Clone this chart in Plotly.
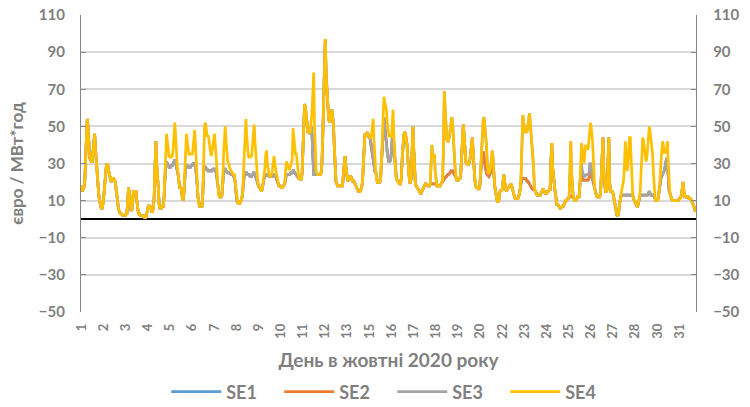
import plotly.graph_objects as go

# Hourly day-ahead prices, October 2020 (EUR/MWh), one row per day (24 hours)
SE4 = [
    [18,15,16,17,20,30,45,54,50,40,33,32,31,31,35,42,46,38,30,25,18,13,10,7],
    [6,6,8,12,18,24,28,30,29,26,23,22,20,21,22,22,21,20,16,12,8,5,4,3],
    [3,2,2,2,2,2,3,3,10,17,14,8,5,5,12,15,15,15,15,10,5,3,3,2],
    [2,2,2,2,1,1,1,3,6,7,7,7,6,4,4,6,12,30,42,30,19,17,8,6],
    [6,6,7,7,12,25,40,46,42,37,34,34,33,34,34,38,46,52,45,35,28,25,20,17],
    [17,16,12,10,14,28,40,46,42,37,35,35,35,35,35,38,44,48,40,28,19,12,8,7],
    [7,7,7,15,35,50,52,48,45,45,44,40,36,34,36,40,45,46,40,32,26,18,13,12],
    [12,12,13,20,35,46,50,42,35,31,30,28,27,26,25,25,24,24,20,14,10,9,9,8],
    [9,10,11,14,25,42,52,54,45,38,34,33,34,34,34,40,48,51,42,33,28,22,18,17],
    [16,15,15,17,20,23,28,35,37,30,25,24,23,23,24,26,30,34,30,26,24,22,19,18],
    [18,17,17,17,18,18,19,26,31,30,28,27,27,29,30,32,49,44,38,35,35,30,25,22],
    [22,21,21,25,38,52,62,60,55,50,47,47,46,48,53,58,68,79,50,30,26,25,24,24],
    [24,24,25,30,45,62,80,97,78,68,60,55,52,54,57,59,55,50,38,26,20,19,18,18],
    [18,18,18,18,18,25,33,34,28,22,21,21,22,23,23,22,20,21,20,19,18,17,16,15],
    [15,15,16,17,20,30,42,46,45,46,47,45,44,44,44,46,50,54,42,30,26,22,20,20],
    [20,20,22,30,42,55,66,63,60,59,52,47,45,45,44,44,50,59,45,33,26,22,21,20],
    [20,19,19,22,32,41,45,47,46,43,40,32,22,20,20,22,35,50,38,22,19,18,17,17],
    [16,15,14,14,15,16,17,18,19,19,18,18,18,18,19,28,40,33,34,35,26,19,18,18],
    [18,18,18,19,20,21,40,69,60,50,43,42,42,44,48,52,55,52,42,34,28,23,21,21],
    [21,22,22,25,35,45,51,45,36,31,30,30,29,30,32,36,42,44,35,26,21,18,17,17],
    [16,16,18,28,41,48,53,55,50,45,40,30,25,25,27,28,32,37,33,24,18,15,12,10],
    [9,10,14,16,15,16,20,24,20,17,15,16,17,17,18,19,19,17,15,14,12,11,11,11],
    [11,12,15,16,25,45,56,52,48,47,47,47,50,54,57,52,46,42,39,28,17,15,14,13],
    [13,13,13,13,14,15,16,16,15,14,14,14,15,15,16,16,30,41,28,22,17,15,12,8],
    [8,7,6,6,6,7,7,7,8,9,10,10,11,11,12,25,42,25,14,12,11,10,10,11],
    [12,12,12,18,32,41,38,33,30,35,40,39,38,38,44,50,52,48,44,36,22,16,14,13],
    [12,12,12,12,14,28,40,44,25,16,15,15,16,30,44,20,15,15,15,14,12,9,7,4],
    [2,2,4,8,10,14,17,18,21,30,42,35,26,28,36,44,44,30,17,13,11,10,9,8],
    [7,7,9,12,15,25,38,44,42,39,35,31,33,40,47,50,47,43,40,35,25,15,11,10],
    [10,10,12,16,21,30,38,42,40,36,36,36,38,42,30,16,14,12,11,10,10,10,10,10],
    [10,10,10,11,11,12,13,17,20,14,12,12,12,12,12,11,11,11,10,9,8,7,5,4],
]

SE3 = [
    [18,15,16,17,20,30,45,54,50,40,33,32,31,31,35,42,46,38,30,25,18,13,10,7],
    [6,6,8,12,18,24,28,30,29,26,23,22,20,21,22,22,21,20,16,12,8,5,4,3],
    [3,2,2,2,2,2,3,3,10,17,14,8,5,5,12,15,15,15,15,10,5,3,3,2],
    [2,2,2,2,1,1,1,3,6,7,7,7,6,4,4,6,12,30,42,30,19,17,8,6],
    [6,6,7,7,12,25,30,31,30,29,28,28,28,29,29,30,31,32,30,28,26,24,20,17],
    [17,16,12,10,14,25,28,29,29,28,28,28,28,29,29,30,30,30,29,25,19,12,8,7],
    [7,7,7,15,27,28,28,27,27,26,26,26,26,26,26,27,27,27,26,25,22,18,13,12],
    [12,12,13,20,26,27,27,26,25,25,25,25,25,24,24,24,23,23,20,14,10,9,9,8],
    [9,10,11,14,22,24,25,25,25,24,24,24,23,23,23,24,25,25,24,23,22,20,18,17],
    [16,15,15,17,20,22,23,24,24,24,23,23,23,23,23,23,24,24,24,23,22,21,19,18],
    [18,17,17,17,18,18,19,22,24,24,24,24,24,25,25,25,26,26,25,24,24,23,22,22],
    [22,21,21,25,38,52,62,60,55,50,47,47,46,48,50,45,28,24,24,24,24,24,24,24],
    [24,24,25,30,45,62,80,97,78,68,60,55,52,54,57,59,55,50,38,26,20,19,18,18],
    [18,18,18,18,18,25,33,34,28,22,21,21,22,23,23,22,20,21,20,19,18,17,16,15],
    [15,15,16,17,20,30,42,46,45,46,47,45,44,44,42,40,36,32,29,26,26,22,20,20],
    [20,20,22,30,42,50,55,50,44,40,36,33,31,31,32,36,44,50,40,32,26,22,21,20],
    [20,19,19,22,32,41,45,47,46,43,40,32,22,20,20,22,35,50,38,22,19,18,17,17],
    [16,15,14,14,15,16,17,18,19,19,18,18,18,18,19,28,40,33,34,35,26,19,18,18],
    [18,18,18,19,20,21,40,69,60,50,43,42,42,44,48,52,55,52,42,34,28,23,21,21],
    [21,22,22,25,35,45,51,45,36,31,30,30,29,30,32,36,42,44,35,26,21,18,17,17],
    [16,16,18,28,41,48,53,55,50,45,40,30,25,25,27,28,32,37,33,24,18,15,12,10],
    [9,10,14,16,15,16,20,24,20,17,15,16,17,17,18,19,19,17,15,14,12,11,11,11],
    [11,12,15,16,25,45,56,52,48,47,47,47,50,54,57,52,46,42,39,28,17,15,14,13],
    [13,13,13,13,14,15,16,16,15,14,14,14,15,15,16,16,30,41,28,22,17,15,12,8],
    [8,7,6,6,6,7,7,7,8,9,10,10,11,11,12,25,42,25,14,12,11,10,10,11],
    [12,12,12,18,28,30,26,24,23,23,24,24,24,24,25,30,30,28,25,22,20,16,14,13],
    [12,12,12,12,14,28,40,44,25,16,15,15,16,30,44,20,15,15,15,14,12,9,7,4],
    [2,2,4,8,10,13,13,13,13,13,13,13,13,13,13,13,13,13,13,13,11,10,9,8],
    [7,7,9,12,13,13,13,13,13,13,13,13,13,13,14,15,14,13,13,13,13,13,11,10],
    [10,10,12,16,20,22,23,24,25,26,28,30,33,30,20,15,14,12,11,10,10,10,10,10],
    [10,10,10,11,11,12,13,17,20,14,12,12,12,12,12,11,11,11,10,9,8,7,5,4],
]

SE2 = [
    [18,15,16,17,20,30,45,54,50,40,33,32,31,31,35,42,46,38,30,25,18,13,10,7],
    [6,6,8,12,18,24,28,30,29,26,23,22,20,21,22,22,21,20,16,12,8,5,4,3],
    [3,2,2,2,2,2,3,3,10,17,14,8,5,5,12,15,15,15,15,10,5,3,3,2],
    [2,2,2,2,1,1,1,3,6,7,7,7,6,4,4,6,12,30,42,30,19,17,8,6],
    [6,6,7,7,12,25,30,31,30,29,28,28,28,29,29,30,31,32,30,28,26,24,20,17],
    [17,16,12,10,14,25,28,29,29,28,28,28,28,29,29,30,30,30,29,25,19,12,8,7],
    [7,7,7,15,27,28,28,27,27,26,26,26,26,26,26,27,27,27,26,25,22,18,13,12],
    [12,12,13,20,26,27,27,26,25,25,25,25,25,24,24,24,23,23,20,14,10,9,9,8],
    [9,10,11,14,22,24,25,25,25,24,24,24,23,23,23,24,25,25,24,23,22,20,18,17],
    [16,15,15,17,20,22,23,24,24,24,23,23,23,23,23,23,24,24,24,23,22,21,19,18],
    [18,17,17,17,18,18,19,22,24,24,24,24,24,25,25,25,26,26,25,24,24,23,22,22],
    [22,21,21,25,38,52,62,60,55,50,47,47,46,48,50,45,28,24,24,24,24,24,24,24],
    [24,24,25,30,45,62,80,97,78,68,60,55,52,54,57,59,55,50,38,26,20,19,18,18],
    [18,18,18,18,18,25,33,34,28,22,21,21,22,23,23,22,20,21,20,19,18,17,16,15],
    [15,15,16,17,20,30,42,46,45,46,47,45,44,44,41,37,33,30,28,26,26,22,20,20],
    [20,20,22,30,42,50,55,50,44,40,36,33,31,31,32,36,44,50,40,32,26,22,21,20],
    [20,19,19,22,32,41,45,47,46,43,40,32,22,20,20,22,35,50,38,22,19,18,17,17],
    [16,15,14,14,15,16,17,18,19,19,18,18,18,18,19,19,19,19,19,19,19,19,18,18],
    [18,18,18,19,20,20,21,22,22,23,23,24,24,25,25,26,26,26,25,24,23,22,21,21],
    [21,22,22,25,35,45,51,45,36,31,30,30,29,30,32,36,42,44,35,26,21,18,17,17],
    [16,16,18,26,34,36,36,34,30,27,25,24,23,23,24,25,28,32,30,22,18,15,12,10],
    [9,10,14,16,15,16,20,24,20,17,15,16,17,17,18,19,19,17,15,14,12,11,11,11],
    [11,12,15,16,20,22,22,22,22,22,21,21,20,20,19,18,17,16.5,16,16,16,15,14,13],
    [13,13,13,13,14,15,16,16,15,14,14,14,15,15,16,16,30,41,28,22,17,15,12,8],
    [8,7,6,6,6,7,7,7,8,9,10,10,11,11,12,12,12,12,13,12,11,10,10,11],
    [12,12,12,18,25,25,22,21,21,21,21,21,21,21,22,24,26,24,22,20,19,16,14,13],
    [12,12,12,12,14,28,40,44,25,16,15,15,16,30,44,20,15,15,15,14,12,9,7,4],
    [2,2,4,8,10,13,13,13,13,13,13,13,13,13,13,13,13,13,13,13,11,10,9,8],
    [7,7,9,12,13,13,13,13,13,13,13,13,13,13,14,15,14,13,13,13,13,13,11,10],
    [10,10,12,16,20,22,23,24,25,26,28,30,33,30,20,15,14,12,11,10,10,10,10,10],
    [10,10,10,11,11,12,13,17,20,14,12,12,12,12,12,11,11,11,10,9,8,7,5,4],
]

SE1 = [
    [18,15,16,17,20,30,45,54,50,40,33,32,31,31,35,42,46,38,30,25,18,13,10,7],
    [6,6,8,12,18,24,28,30,29,26,23,22,20,21,22,22,21,20,16,12,8,5,4,3],
    [3,2,2,2,2,2,3,3,10,17,14,8,5,5,12,15,15,15,15,10,5,3,3,2],
    [2,2,2,2,1,1,1,3,6,7,7,7,6,4,4,6,12,30,42,30,19,17,8,6],
    [6,6,7,7,12,25,30,31,30,29,28,28,28,29,29,30,31,32,30,28,26,24,20,17],
    [17,16,12,10,14,25,28,29,29,28,28,28,28,29,29,30,30,30,29,25,19,12,8,7],
    [7,7,7,15,27,28,28,27,27,26,26,26,26,26,26,27,27,27,26,25,22,18,13,12],
    [12,12,13,20,26,27,27,26,25,25,25,25,25,24,24,24,23,23,20,14,10,9,9,8],
    [9,10,11,14,22,24,25,25,25,24,24,24,23,23,23,24,25,25,24,23,22,20,18,17],
    [16,15,15,17,20,22,23,24,24,24,23,23,23,23,23,23,24,24,24,23,22,21,19,18],
    [18,17,17,17,18,18,19,22,24,24,24,24,24,25,25,25,26,26,25,24,24,23,22,22],
    [22,21,21,25,38,52,62,60,55,50,47,47,46,48,50,45,28,24,24,24,24,24,24,24],
    [24,24,25,30,45,62,80,97,78,68,60,55,52,54,57,59,55,50,38,26,20,19,18,18],
    [18,18,18,18,18,25,33,34,28,22,21,21,22,23,23,22,20,21,20,19,18,17,16,15],
    [15,15,16,17,20,30,42,46,45,46,47,45,44,44,41,37,33,30,28,26,26,22,20,20],
    [20,20,22,30,42,50,55,50,44,40,36,33,31,31,32,36,44,50,40,32,26,22,21,20],
    [20,19,19,22,32,41,45,47,46,43,40,32,22,20,20,22,35,50,38,22,19,18,17,17],
    [16,15,14,14,15,16,17,18,19,19,18,18,18,18,19,19,19,19,19,19,19,19,18,18],
    [18,18,18,19,20,20,21,22,22,23,23,24,24,25,25,26,26,26,25,24,23,22,21,21],
    [21,22,22,25,35,45,51,45,36,31,30,30,29,30,32,36,42,44,35,26,21,18,17,17],
    [16,16,18,26,34,36,36,34,30,27,25,24,23,23,24,25,28,32,30,22,18,15,12,10],
    [9,10,14,16,15,16,20,24,20,17,15,16,17,17,18,19,19,17,15,14,12,11,11,11],
    [11,12,15,16,20,22,22,22,22,22,21,21,20,20,19,18,17,16.5,16,16,16,15,14,13],
    [13,13,13,13,14,15,16,16,15,14,14,14,15,15,16,16,30,41,28,22,17,15,12,8],
    [8,7,6,6,6,7,7,7,8,9,10,10,11,11,12,12,12,12,13,12,11,10,10,11],
    [12,12,12,18,25,25,22,21,21,21,21,21,21,21,22,24,26,24,22,20,19,16,14,13],
    [12,12,12,12,14,28,40,44,25,16,15,15,16,30,44,20,15,15,15,14,12,9,7,4],
    [2,2,4,8,10,13,13,13,13,13,13,13,13,13,13,13,13,13,13,13,11,10,9,8],
    [7,7,9,12,13,13,13,13,13,13,13,13,13,13,14,15,14,13,13,13,13,13,11,10],
    [10,10,12,16,20,22,23,24,25,26,28,30,33,30,20,15,14,12,11,10,10,10,10,10],
    [10,10,10,11,11,12,13,17,20,14,12,12,12,12,12,11,11,11,10,9,8,7,5,4],
]

SERIES_NAMES = ["SE1", "SE2", "SE3", "SE4"]
SERIES_COLORS = ["#5B9BD5", "#ED7D31", "#A5A5A5", "#FFC000"]
TICK_LABELS = ["1","2","3","4","5","6","7","8","9","10","11","12","13",
               "15","16","17","18","19","20","22","23","24","25","26","27","28","30","31"]
Y_TICKS = [-50, -30, -10, 10, 30, 50, 70, 90, 110]
TICK_STEP_HOURS = 26.8

FONT = "Lato, 'Noto Sans', sans-serif"
GRAY = "#7F7F7F"

def flat(rows):
    return [v for r in rows for v in r]

n_hours = len(flat(SE4))
hours = list(range(n_hours))

fig = go.Figure()
for name, rows, color in zip(SERIES_NAMES, [SE1, SE2, SE3, SE4], SERIES_COLORS):
    fig.add_trace(go.Scatter(x=hours, y=flat(rows), mode="lines", name=name,
                             line=dict(color=color, width=2.7), hoverinfo="skip"))

# invisible copy on the secondary axis so the right-hand scale is drawn
fig.add_trace(go.Scatter(x=hours, y=flat(SE4), yaxis="y2", mode="lines",
                         line=dict(color="rgba(0,0,0,0)", width=0),
                         showlegend=False, hoverinfo="skip"))

tickvals = [k * TICK_STEP_HOURS for k in range(len(TICK_LABELS))]

axis_common = dict(range=[-50, 110], tickvals=Y_TICKS, ticks="inside", ticklen=5,
                   tickcolor="#868686", showline=True, linecolor="#868686", linewidth=1.3,
                   automargin=False,
                   tickfont=dict(family=FONT, size=15, color=GRAY, weight="bold"))

fig.update_layout(
    width=750, height=407,
    margin=dict(l=81, r=54, t=15, b=95, autoexpand=False),
    paper_bgcolor="white", plot_bgcolor="white",
    showlegend=True,
    legend=dict(orientation="h", xref="container", yref="container",
                x=0.523, xanchor="center", y=0.037, yanchor="middle",
                font=dict(family=FONT, size=18, color=GRAY, weight="bold"),
                itemwidth=50, entrywidth=48, traceorder="normal"),
    xaxis=dict(range=[-0.5, n_hours - 0.5], tickvals=tickvals, ticktext=TICK_LABELS,
               tickangle=-90, ticks="", showgrid=False, zeroline=False, showline=False,
               automargin=False, ticklabelstandoff=8,
               tickfont=dict(family=FONT, size=13, color=GRAY, weight="bold"),
               title=dict(text="День в жовтні 2020 року", standoff=16,
                          font=dict(family=FONT, size=19, color=GRAY, weight="bold"))),
    yaxis=dict(**axis_common, side="left", showgrid=True, gridcolor="#D9D9D9", gridwidth=1.5,
               zeroline=True, zerolinecolor="black", zerolinewidth=2,
               ticklabelstandoff=12,
               title=dict(text="євро / МВт*год", standoff=10,
                          font=dict(family=FONT, size=17, color=GRAY, weight="bold"))),
    yaxis2=dict(**axis_common, side="right", overlaying="y", showgrid=False, zeroline=False,
                ticklabelstandoff=13),
)

fig.write_html("out.html", config={"displayModeBar": False},
               post_script="document.body.style.margin='0';")
